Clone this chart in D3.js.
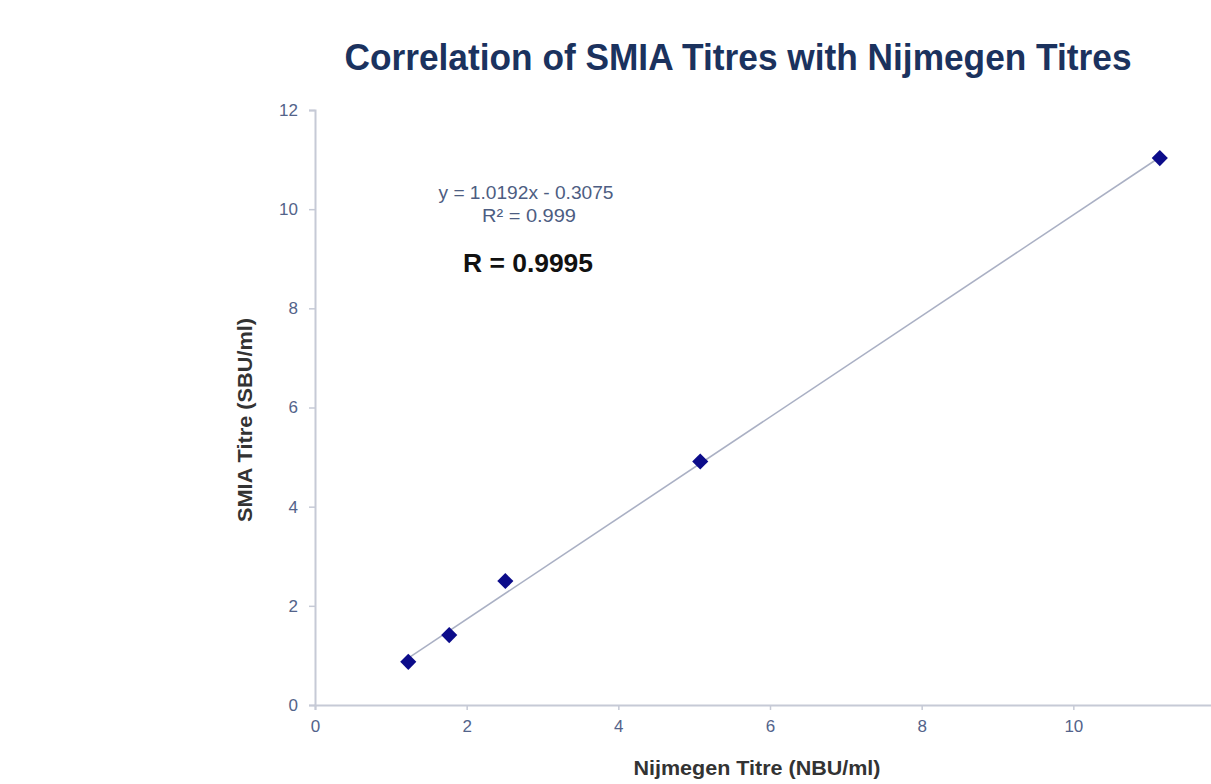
<!DOCTYPE html>
<html>
<head>
<meta charset="utf-8">
<script src="https://cdn.jsdelivr.net/npm/d3@7"></script>
<style>
  html, body { margin: 0; padding: 0; background: #fff; overflow: hidden; }
  svg { display: block; font-family: "Liberation Sans", Arial, sans-serif; }
</style>
</head>
<body>
<svg id="chart" width="1211" height="784"></svg>
<script>
// Paired titres measured by both assays
const nijmegen = [1.23, 1.77, 2.51, 5.08, 11.14];   // NBU/ml
const smia     = [0.87, 1.41, 2.50, 4.91, 11.03];   // SBU/ml

// Linear fit reported on the chart
const slope = 1.0192;
const intercept = -0.3075;

const xTicks = [0, 2, 4, 6, 8, 10];
const yTicks = [0, 2, 4, 6, 8, 10, 12];

const svg = d3.select("#chart");

const x = d3.scaleLinear().domain([0, 12]).range([315, 1225]);
const y = d3.scaleLinear().domain([0, 12]).range([705, 110]);

const axisColor = "#c6cad6";
const tickText = "#53638a";

// Title
svg.append("text")
  .attr("x", 738).attr("y", 70)
  .attr("text-anchor", "middle")
  .attr("font-size", 36).attr("font-weight", "bold")
  .attr("fill", "#1b325e")
  .attr("textLength", 787).attr("lengthAdjust", "spacingAndGlyphs")
  .text("Correlation of SMIA Titres with Nijmegen Titres");

// Axes
const xAxis = svg.append("g")
  .attr("transform", `translate(0,${y(0)})`)
  .call(d3.axisBottom(x).tickValues(xTicks).tickSize(5).tickPadding(10).tickFormat(d3.format("d")));
const yAxis = svg.append("g")
  .attr("transform", `translate(${x(0)},0)`)
  .call(d3.axisLeft(y).tickValues(yTicks).tickSize(6).tickPadding(11).tickFormat(d3.format("d")));

[xAxis, yAxis].forEach(g => {
  g.select(".domain").attr("stroke", axisColor).attr("stroke-width", 2);
  g.selectAll(".tick line").attr("stroke", axisColor).attr("stroke-width", 1.5);
  g.selectAll(".tick text")
    .attr("fill", tickText)
    .attr("font-size", 17)
    .attr("font-family", "Liberation Sans, Arial, sans-serif");
});

// Axis titles
svg.append("text")
  .attr("x", 757).attr("y", 775)
  .attr("text-anchor", "middle")
  .attr("font-size", 21).attr("font-weight", "bold")
  .attr("fill", "#333333")
  .attr("textLength", 247).attr("lengthAdjust", "spacingAndGlyphs")
  .text("Nijmegen Titre (NBU/ml)");

svg.append("text")
  .attr("transform", "translate(252,420) rotate(-90)")
  .attr("text-anchor", "middle")
  .attr("font-size", 21).attr("font-weight", "bold")
  .attr("fill", "#333333")
  .attr("textLength", 204).attr("lengthAdjust", "spacingAndGlyphs")
  .text("SMIA Titre (SBU/ml)");

// Trendline across the measured range
const xMin = d3.min(nijmegen), xMax = d3.max(nijmegen);
const fitLine = [xMin, xMax].map(v => [v, slope * v + intercept]);
svg.append("path")
  .datum(fitLine)
  .attr("d", d3.line().x(d => x(d[0])).y(d => y(d[1])))
  .attr("fill", "none")
  .attr("stroke", "#aab0c4")
  .attr("stroke-width", 1.6);

// Data markers (diamonds)
const diamond = d3.symbol().type(d3.symbolSquare).size(130);
svg.append("g").selectAll("path")
  .data(nijmegen.map((v, i) => [v, smia[i]]))
  .join("path")
  .attr("d", diamond)
  .attr("transform", d => `translate(${x(d[0])},${y(d[1])}) rotate(45)`)
  .attr("fill", "#0c0c8a");

// Fit annotations
svg.append("text")
  .attr("x", 526).attr("y", 199)
  .attr("text-anchor", "middle")
  .attr("font-size", 17.5).attr("fill", "#4d5d82")
  .attr("textLength", 175).attr("lengthAdjust", "spacingAndGlyphs")
  .text(`y = ${slope.toFixed(4)}x - ${Math.abs(intercept).toFixed(4)}`);

svg.append("text")
  .attr("x", 529).attr("y", 222)
  .attr("text-anchor", "middle")
  .attr("font-size", 17.5).attr("fill", "#4d5d82")
  .attr("textLength", 94).attr("lengthAdjust", "spacingAndGlyphs")
  .text("R² = 0.999");

svg.append("text")
  .attr("x", 528).attr("y", 272)
  .attr("text-anchor", "middle")
  .attr("font-size", 26).attr("font-weight", "bold").attr("fill", "#111111")
  .attr("textLength", 130).attr("lengthAdjust", "spacingAndGlyphs")
  .text("R = 0.9995");
</script>
</body>
</html>
